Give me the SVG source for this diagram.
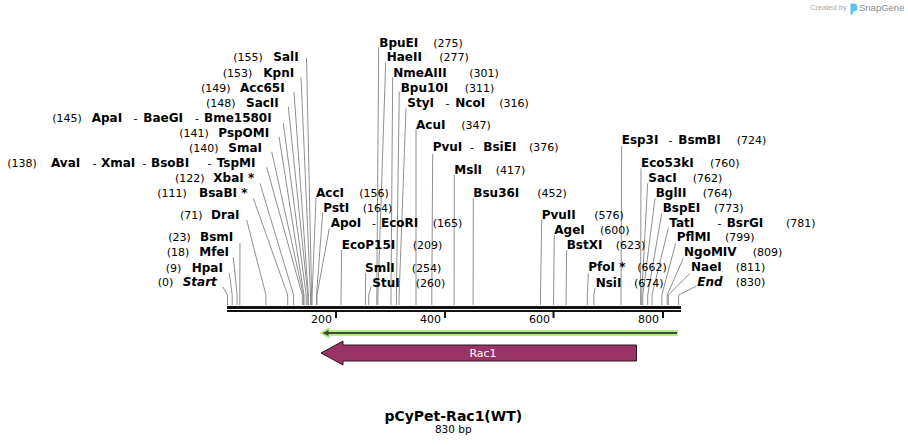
<svg xmlns="http://www.w3.org/2000/svg" width="908" height="445" viewBox="0 0 908 445">
<style>
text{font-family:"DejaVu Sans",Verdana,sans-serif;fill:#000}
.n{font-size:11px}
.b{font-size:12px;font-weight:bold}
.bi{font-size:12px;font-weight:bold;font-style:italic}
.ax{font-size:11px}
#connectors polyline{fill:none;stroke:#8f8f8f;stroke-width:1}
.cr{font-family:"Liberation Sans",Arial,sans-serif;fill:#aaa;font-size:7.5px}
.sg{font-family:"Liberation Sans",Arial,sans-serif;fill:#8a8a8a;font-size:9.5px}
</style>
<rect width="908" height="445" fill="#fff"/>

<g id="credit">
<text class="cr" x="810" y="10">Created by</text>
<path d="M850.5,3.5 h3 a4,4 0 0 1 0,8 h-0.5 v3 h-2.5 z" fill="#5cc3ec"/>
<text class="sg" x="859" y="11">SnapGene</text>
</g>

<g id="connectors">
<polyline points="306.5,58 311.6,295 311.6,305"/>
<polyline points="301,77 310.5,295 310.5,305"/>
<polyline points="294,92 308.3,295 308.3,305"/>
<polyline points="288.3,106.7 307.8,295 307.8,305"/>
<polyline points="283.3,123.3 306.2,295 306.2,305"/>
<polyline points="279,136.7 304,295 304,305"/>
<polyline points="271.7,151.7 303.4,295 303.4,305"/>
<polyline points="266.7,167.3 302.3,295 302.3,305"/>
<polyline points="260,183.3 293.6,295 293.6,305"/>
<polyline points="253.3,198.3 287.7,295 287.7,305"/>
<polyline points="246.7,220 265.9,295 265.9,305"/>
<polyline points="240,243.3 239.8,295 239.8,305"/>
<polyline points="233.3,257.3 237.1,295 237.1,305"/>
<polyline points="229.3,273.3 232.2,295 232.2,305"/>
<polyline points="222.7,286.7 227.5,295 227.5,305"/>
<polyline points="378.7,47.3 376.8,295 376.8,305"/>
<polyline points="385.7,62.3 377.9,295 377.9,305"/>
<polyline points="392.7,77.3 391,295 391,305"/>
<polyline points="399.3,91.7 396.4,295 396.4,305"/>
<polyline points="406,108.3 399.1,295 399.1,305"/>
<polyline points="416,129.3 416,295 416,305"/>
<polyline points="432.7,154 431.8,295 431.8,305"/>
<polyline points="454.3,175 454.1,295 454.1,305"/>
<polyline points="473.3,198 473.1,295 473.1,305"/>
<polyline points="316,197.7 312.1,295 312.1,305"/>
<polyline points="322.7,212.7 316.5,295 316.5,305"/>
<polyline points="329.3,228.3 317,295 317,305"/>
<polyline points="341.7,250 341,295 341,305"/>
<polyline points="365.7,272.7 365.4,295 365.4,305"/>
<polyline points="371,286.7 368.7,295 368.7,305"/>
<polyline points="621.7,146 621,295 621,305"/>
<polyline points="641,168.3 640.6,295 640.6,305"/>
<polyline points="647.7,183.3 641.7,295 641.7,305"/>
<polyline points="655,198.3 642.8,295 642.8,305"/>
<polyline points="661.7,213.3 647.7,295 647.7,305"/>
<polyline points="668.3,228.3 652,295 652,305"/>
<polyline points="675.7,243.3 661.8,295 661.8,305"/>
<polyline points="683.3,258.3 667.2,295 667.2,305"/>
<polyline points="690,273.3 668.3,295 668.3,305"/>
<polyline points="696.7,286 678.6,295 678.6,305"/>
<polyline points="541.7,220 540.5,295 540.5,305"/>
<polyline points="554.3,235 553.6,295 553.6,305"/>
<polyline points="566.7,250 566.1,295 566.1,305"/>
<polyline points="588.3,273.3 587.3,295 587.3,305"/>
<polyline points="595,288 593.8,295 593.8,305"/>
</g>

<g id="left-labels">
<g id="SalI"><text class="n" x="233.3" y="61.2">(155)</text><text class="b" x="273.3" y="61.2">SalI</text></g>
<g id="KpnI"><text class="n" x="222.7" y="76.8">(153)</text><text class="b" x="263.3" y="76.8">KpnI</text></g>
<g id="Acc65I"><text class="n" x="201" y="91.8">(149)</text><text class="b" x="240" y="91.8">Acc65I</text></g>
<g id="SacII"><text class="n" x="206" y="106.5">(148)</text><text class="b" x="246" y="106.5">SacII</text></g>
<g id="ApaI"><text class="n" x="52.3" y="121.8">(145)</text><text class="b" x="91.7" y="121.8">ApaI</text><text class="n" x="133.5" y="121.8">-</text><text class="b" x="143.3" y="121.8">BaeGI</text><text class="n" x="195" y="121.8">-</text><text class="b" x="204" y="121.8">Bme1580I</text></g>
<g id="PspOMI"><text class="n" x="179.3" y="136.5">(141)</text><text class="b" x="218.3" y="136.5">PspOMI</text></g>
<g id="SmaI"><text class="n" x="189" y="151.8">(140)</text><text class="b" x="228.3" y="151.8">SmaI</text></g>
<g id="AvaI"><text class="n" x="7.3" y="166.5">(138)</text><text class="b" x="51" y="166.5">AvaI</text><text class="n" x="92.5" y="166.5">-</text><text class="b" x="101" y="166.5">XmaI</text><text class="n" x="142.5" y="166.5">-</text><text class="b" x="151" y="166.5">BsoBI</text><text class="n" x="207.5" y="166.5">-</text><text class="b" x="216.7" y="166.5">TspMI</text></g>
<g id="XbaI"><text class="n" x="175" y="181.8">(122)</text><text class="b" x="213.3" y="181.8">XbaI *</text></g>
<g id="BsaBI"><text class="n" x="157.3" y="197.2">(111)</text><text class="b" x="199" y="197.2">BsaBI *</text></g>
<g id="DraI"><text class="n" x="180" y="218.8">(71)</text><text class="b" x="211" y="218.8">DraI</text></g>
<g id="BsmI"><text class="n" x="168.3" y="241.2">(23)</text><text class="b" x="200" y="241.2">BsmI</text></g>
<g id="MfeI"><text class="n" x="166.7" y="256.2">(18)</text><text class="b" x="199.3" y="256.2">MfeI</text></g>
<g id="HpaI"><text class="n" x="165.7" y="271.5">(9)</text><text class="b" x="191.7" y="271.5">HpaI</text></g>
<g id="Start"><text class="n" x="157.7" y="286.2">(0)</text><text class="bi" x="182.7" y="286.2">Start</text></g>
</g>

<g id="right-labels">
<g id="BpuEI"><text class="b" x="379.3" y="46.8">BpuEI</text><text class="n" x="433.3" y="46.8">(275)</text></g>
<g id="HaeII"><text class="b" x="386.7" y="61.2">HaeII</text><text class="n" x="439.3" y="61.2">(277)</text></g>
<g id="NmeAIII"><text class="b" x="393.3" y="76.5">NmeAIII</text><text class="n" x="469.3" y="76.5">(301)</text></g>
<g id="Bpu10I"><text class="b" x="400.7" y="91.8">Bpu10I</text><text class="n" x="464.7" y="91.8">(311)</text></g>
<g id="StyI"><text class="b" x="407.3" y="106.5">StyI</text><text class="n" x="445.5" y="106.5">-</text><text class="b" x="455.3" y="106.5">NcoI</text><text class="n" x="499.3" y="106.5">(316)</text></g>
<g id="AcuI"><text class="b" x="416" y="129.2">AcuI</text><text class="n" x="461.3" y="129.2">(347)</text></g>
<g id="PvuI"><text class="b" x="432.7" y="151.2">PvuI</text><text class="n" x="470" y="151.2">-</text><text class="b" x="483.3" y="151.2">BsiEI</text><text class="n" x="529" y="151.2">(376)</text></g>
<g id="MslI"><text class="b" x="454.3" y="173.5">MslI</text><text class="n" x="495.7" y="173.5">(417)</text></g>
<g id="Bsu36I"><text class="b" x="473.3" y="196.8">Bsu36I</text><text class="n" x="537.3" y="196.8">(452)</text></g>
<g id="AccI"><text class="b" x="316" y="196.8">AccI</text><text class="n" x="359.3" y="196.8">(156)</text></g>
<g id="PstI"><text class="b" x="323.3" y="211.8">PstI</text><text class="n" x="362.7" y="211.8">(164)</text></g>
<g id="ApoI"><text class="b" x="330.7" y="226.5">ApoI</text><text class="n" x="372" y="226.5">-</text><text class="b" x="381" y="226.5">EcoRI</text><text class="n" x="432.7" y="226.5">(165)</text></g>
<g id="EcoP15I"><text class="b" x="341.7" y="248.5">EcoP15I</text><text class="n" x="412.7" y="248.5">(209)</text></g>
<g id="SmlI"><text class="b" x="365" y="271.5">SmlI</text><text class="n" x="411.7" y="271.5">(254)</text></g>
<g id="StuI"><text class="b" x="372.3" y="286.5">StuI</text><text class="n" x="415.7" y="286.5">(260)</text></g>
<g id="Esp3I"><text class="b" x="621.7" y="143.8">Esp3I</text><text class="n" x="668.5" y="143.8">-</text><text class="b" x="678.3" y="143.8">BsmBI</text><text class="n" x="736.7" y="143.8">(724)</text></g>
<g id="Eco53kI"><text class="b" x="641" y="166.8">Eco53kI</text><text class="n" x="710" y="166.8">(760)</text></g>
<g id="SacI"><text class="b" x="648.3" y="181.8">SacI</text><text class="n" x="692.7" y="181.8">(762)</text></g>
<g id="BglII"><text class="b" x="655.7" y="196.5">BglII</text><text class="n" x="702.7" y="196.5">(764)</text></g>
<g id="BspEI"><text class="b" x="662.7" y="211.8">BspEI</text><text class="n" x="714" y="211.8">(773)</text></g>
<g id="TatI"><text class="b" x="669.3" y="226.5">TatI</text><text class="n" x="717.5" y="226.5">-</text><text class="b" x="726.7" y="226.5">BsrGI</text><text class="n" x="786" y="226.5">(781)</text></g>
<g id="PflMI"><text class="b" x="676.7" y="241.2">PflMI</text><text class="n" x="725" y="241.2">(799)</text></g>
<g id="NgoMIV"><text class="b" x="684" y="256.2">NgoMIV</text><text class="n" x="752.7" y="256.2">(809)</text></g>
<g id="NaeI"><text class="b" x="691" y="271.2">NaeI</text><text class="n" x="735.7" y="271.2">(811)</text></g>
<g id="End"><text class="bi" x="697.3" y="286.2">End</text><text class="n" x="735.7" y="286.2">(830)</text></g>
<g id="PvuII"><text class="b" x="541.7" y="218.8">PvuII</text><text class="n" x="594.3" y="218.8">(576)</text></g>
<g id="AgeI"><text class="b" x="554.3" y="233.5">AgeI</text><text class="n" x="600" y="233.5">(600)</text></g>
<g id="BstXI"><text class="b" x="566.7" y="248.5">BstXI</text><text class="n" x="615.7" y="248.5">(623)</text></g>
<g id="PfoI"><text class="b" x="588.3" y="271.2">PfoI *</text><text class="n" x="637.3" y="271.2">(662)</text></g>
<g id="NsiI"><text class="b" x="595.7" y="286.5">NsiI</text><text class="n" x="634" y="286.5">(674)</text></g>
</g>

<g id="sequence">
<rect x="227" y="306" width="454" height="3" fill="#111"/>
<rect x="227" y="310" width="454" height="2" fill="#111"/>
<rect x="335" y="312" width="2" height="6" fill="#111"/>
<rect x="444" y="312" width="2" height="6" fill="#111"/>
<rect x="552.5" y="312" width="2" height="6" fill="#111"/>
<rect x="662" y="312" width="2" height="6" fill="#111"/>
<text class="ax" x="332" y="322.5" text-anchor="end">200</text>
<text class="ax" x="441" y="322.5" text-anchor="end">400</text>
<text class="ax" x="550" y="322.5" text-anchor="end">600</text>
<text class="ax" x="659" y="322.5" text-anchor="end">800</text>
</g>

<g id="orf">
<line x1="324" y1="333" x2="678" y2="333" stroke="#b5ec84" stroke-width="6"/>
<polygon points="321,333 329,328.5 329,337.5" fill="#b5ec84" stroke="#b5ec84" stroke-width="2" stroke-linejoin="round"/>
<line x1="326" y1="333" x2="677" y2="333" stroke="#3b4a33" stroke-width="2"/>
<polygon points="322.5,333 328.5,330 328.5,336" fill="#3b4a33"/>
</g>

<g id="Rac1">
<polygon points="321,353 343,341 343,345 636.5,345 636.5,361 343,361 343,365" fill="#993366" stroke="#2a1a22" stroke-width="1" stroke-linejoin="miter"/>
<text x="483" y="357" text-anchor="middle" font-size="11" style="fill:#fff">Rac1</text>
</g>

<g id="title">
<text x="453.3" y="420.5" text-anchor="middle" font-size="14" font-weight="bold">pCyPet-Rac1(WT)</text>
<text x="453.3" y="432.5" text-anchor="middle" font-size="10.5">830 bp</text>
</g>
</svg>
